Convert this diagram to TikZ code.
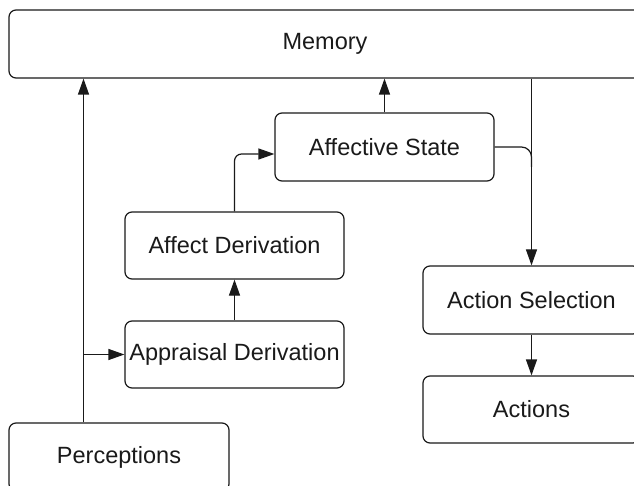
\documentclass[tikz,border=0pt]{standalone}
\usepackage{fontspec}
\setmainfont{Liberation Sans}
\usetikzlibrary{arrows.meta,calc}
\definecolor{ink}{HTML}{1A1A1A}
\tikzset{
  box/.style={draw=ink, line width=1.2pt, rounded corners=7pt, fill=white,
    inner sep=0pt, text=ink, font=\fontsize{23.5}{28}\selectfont},
  arr/.style={draw=ink, line width=1.2pt, -{Triangle[length=16pt,width=11pt]}},
  wire/.style={draw=ink, line width=1.2pt}
}
\begin{document}
\begin{tikzpicture}[x=1pt,y=-1pt]
  \useasboundingbox (0,0) rectangle (634,486);
  \clip (0,0) rectangle (634,486);
  \fill[white] (0,0) rectangle (634,486);

  % processing blocks
  \node[box, minimum width=632pt, minimum height=68pt] (mem)  at (325,44)    {Memory};
  \node[box, minimum width=219pt, minimum height=68pt] (aff)  at (384.5,147) {Affective State};
  \node[box, minimum width=219pt, minimum height=67pt] (affd) at (234.5,245.5) {Affect Derivation};
  \node[box, minimum width=219pt, minimum height=67pt] (appr) at (234.5,354.5) {Appraisal Derivation};
  \node[box, minimum width=220pt, minimum height=68pt] (perc) at (119,457)   {Perceptions};
  \node[box, minimum width=217pt, minimum height=68pt] (asel) at (531.5,300) {Action Selection};
  \node[box, minimum width=217pt, minimum height=67pt] (acts) at (531.5,409.5) {Actions};

  % perception trunk: up to memory, branch into appraisal
  \coordinate (trunk) at (83.5,354.5);
  \draw[arr] (perc.north -| trunk) -- (mem.south -| trunk);
  \draw[arr] (trunk) -- (appr.west);

  % appraisal -> affect -> affective state
  \draw[arr] (appr.north) -- (affd.south);
  \draw[arr, rounded corners=7pt] (affd.north) |- ($(aff.west)+(0,7)$);

  % affective state -> memory
  \draw[arr] (aff.north) -- (mem.south -| aff.north);

  % memory -> action selection, joined by affective state
  \draw[arr] (mem.south -| asel.north) -- (asel.north);
  \draw[wire, rounded corners=10pt] (aff.east) -| ($(aff.east -| asel.north)+(0,20)$);

  % action selection -> actions
  \draw[arr] (asel.south) -- (acts.north);
\end{tikzpicture}
\end{document}
